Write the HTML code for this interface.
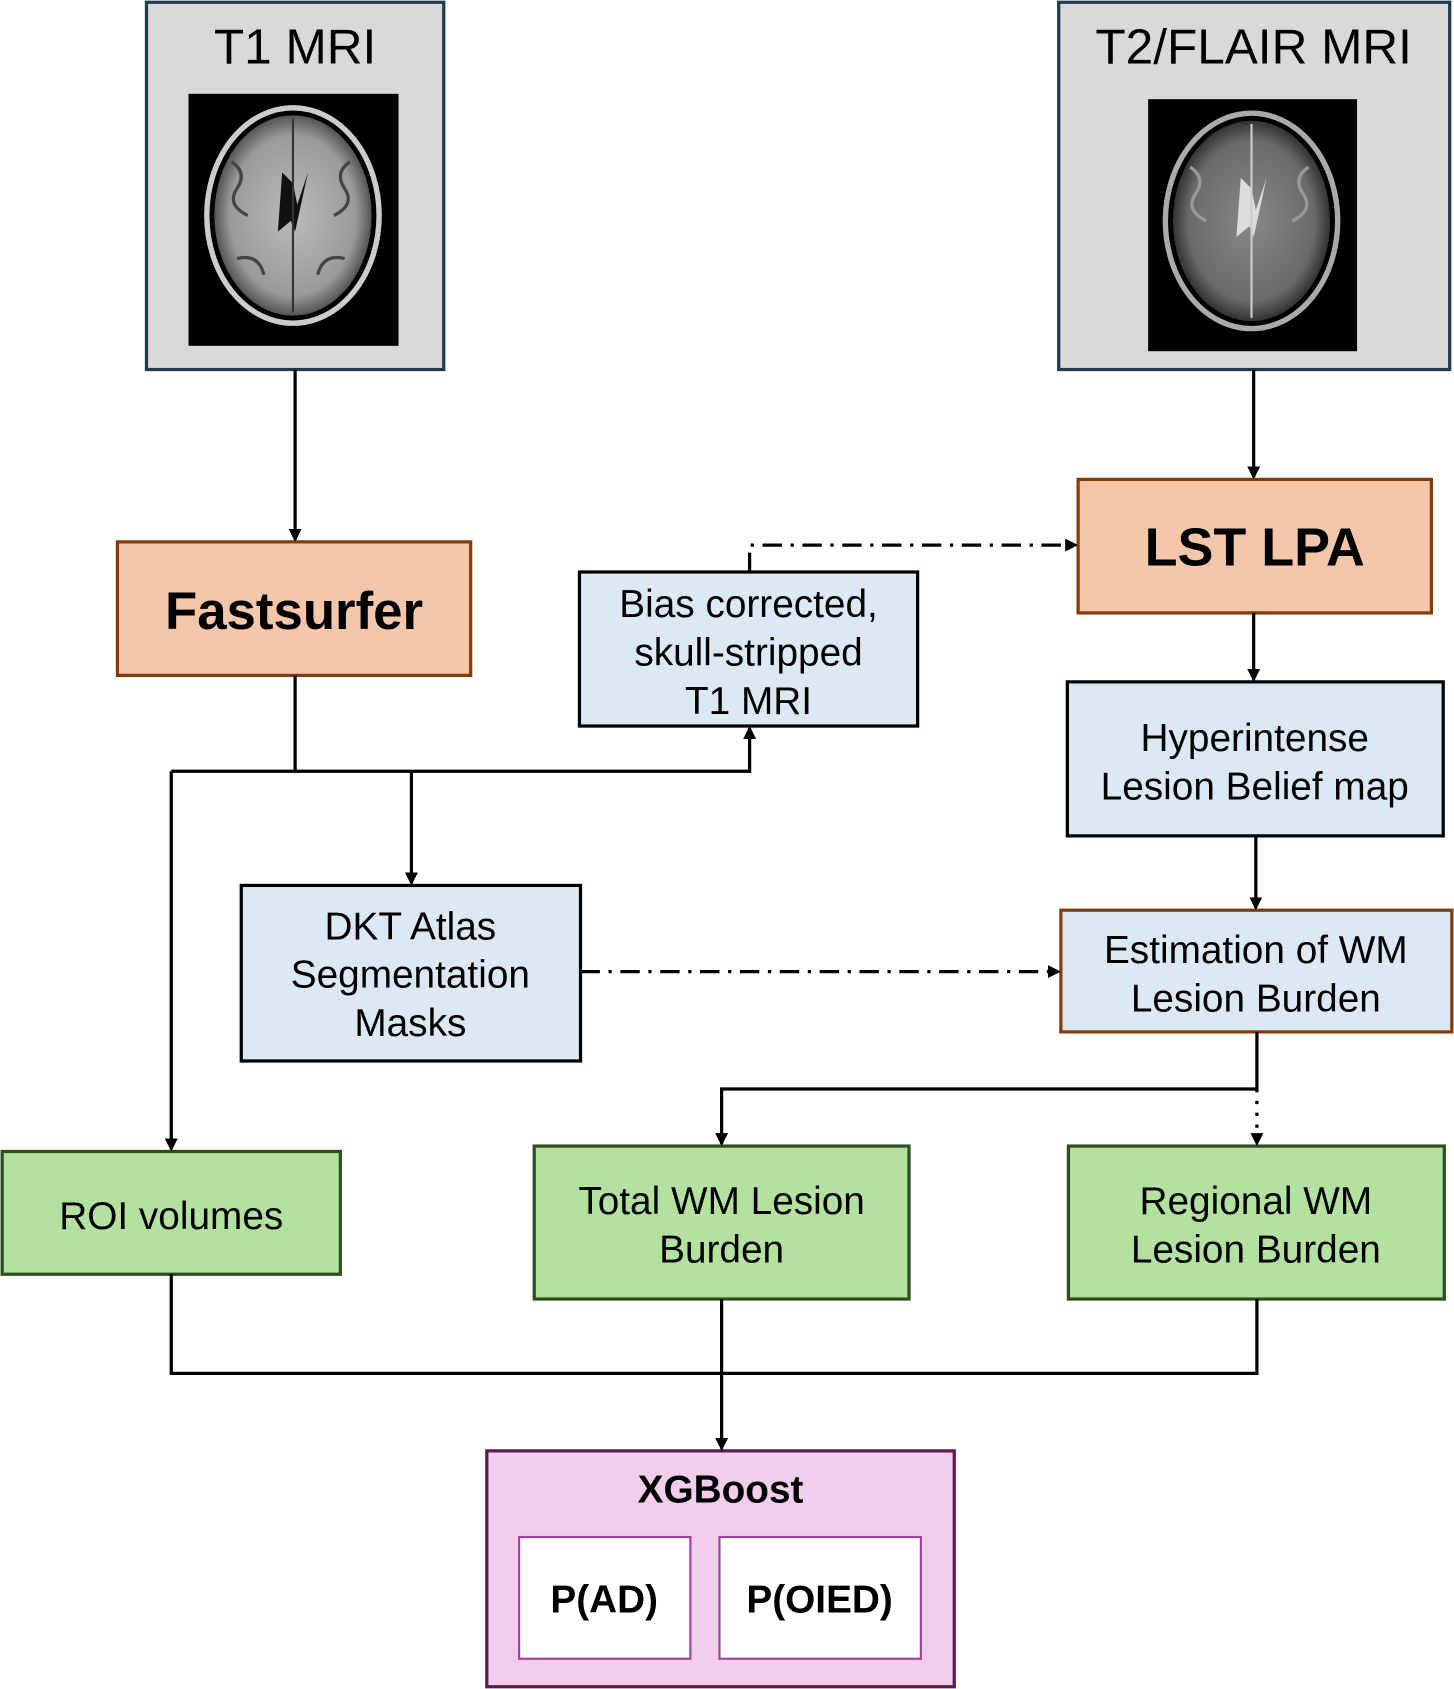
<!DOCTYPE html>
<html><head><meta charset="utf-8"><style>html,body{margin:0;padding:0;background:#fff}svg{display:block}</style></head>
<body>
<svg width="1454" height="1689" viewBox="0 0 1350 1568" xmlns="http://www.w3.org/2000/svg" font-family="Liberation Sans, Arial, sans-serif">
<defs>
<marker id="ah" markerWidth="12" markerHeight="12" refX="10" refY="6" orient="auto" markerUnits="userSpaceOnUse"><path d="M0,0 L12,6 L0,12 z" fill="#000"/></marker>
<radialGradient id="b1" cx="50%" cy="50%" r="50%"><stop offset="0" stop-color="#bbb"/><stop offset="0.8" stop-color="#9a9a9a"/><stop offset="1" stop-color="#555"/></radialGradient>
<radialGradient id="b2" cx="50%" cy="50%" r="50%"><stop offset="0" stop-color="#888"/><stop offset="0.8" stop-color="#6a6a6a"/><stop offset="1" stop-color="#333"/></radialGradient>
</defs>
<!-- T1 -->
<rect x="136" y="2" width="276" height="341" fill="#d9d9d9" stroke="#1f3a4d" stroke-width="3"/>
<text x="274" y="59" font-size="46" text-anchor="middle">T1 MRI</text>
<rect x="175" y="87" width="195" height="234" fill="#000"/>
<ellipse cx="272" cy="200" rx="80" ry="100" fill="none" stroke="#ccc" stroke-width="5"/>
<ellipse cx="272" cy="200" rx="73" ry="93" fill="url(#b1)"/>
<g stroke="#444" stroke-width="3" fill="none">
<path d="M215 150 q15 10 5 25 q-10 15 10 25"/><path d="M325 150 q-15 10 -5 25 q10 15 -10 25"/>
<path d="M220 240 q20 -5 25 15"/><path d="M320 240 q-20 -5 -25 15"/>
</g>
<path d="M262 160 L258 215 L270 205 L274 215 L286 160 L276 190 L272 170 Z" fill="#111"/>
<line x1="272" y1="110" x2="272" y2="290" stroke="#333" stroke-width="2"/>
<!-- T2 -->
<rect x="983" y="2" width="363" height="341" fill="#d9d9d9" stroke="#1f3a4d" stroke-width="3"/>
<text x="1164" y="59" font-size="46" text-anchor="middle">T2/FLAIR MRI</text>
<rect x="1066" y="92" width="194" height="234" fill="#000"/>
<ellipse cx="1162" cy="205" rx="80" ry="100" fill="none" stroke="#aaa" stroke-width="5"/>
<ellipse cx="1162" cy="205" rx="73" ry="93" fill="url(#b2)"/>
<g stroke="#999" stroke-width="3" fill="none">
<path d="M1105 155 q15 10 5 25 q-10 15 10 25"/><path d="M1215 155 q-15 10 -5 25 q10 15 -10 25"/>
</g>
<path d="M1152 165 L1148 220 L1160 210 L1164 220 L1176 165 L1166 195 L1162 175 Z" fill="#ddd"/>
<line x1="1162" y1="115" x2="1162" y2="295" stroke="#ccc" stroke-width="2"/>
<!-- orange boxes -->
<rect x="109" y="503" width="328" height="124" fill="#f5c6aa" stroke="#843c0c" stroke-width="3"/>
<text x="273" y="584" font-size="49" font-weight="bold" text-anchor="middle">Fastsurfer</text>
<rect x="1001" y="445" width="328" height="124" fill="#f5c6aa" stroke="#843c0c" stroke-width="3"/>
<text x="1165" y="525" font-size="50" font-weight="bold" text-anchor="middle">LST LPA</text>
<!-- blue boxes -->
<g font-size="36" text-anchor="middle">
<rect x="538" y="531" width="314" height="143" fill="#dde8f5" stroke="#000" stroke-width="3"/>
<text x="695" y="573">Bias corrected,</text><text x="695" y="618">skull-stripped</text><text x="695" y="663">T1 MRI</text>
<rect x="991" y="633" width="349" height="143" fill="#dde8f5" stroke="#000" stroke-width="3"/>
<text x="1165" y="697">Hyperintense</text><text x="1165" y="742">Lesion Belief map</text>
<rect x="985" y="845" width="363" height="113" fill="#dde8f5" stroke="#843c0c" stroke-width="3"/>
<text x="1166" y="894">Estimation of WM</text><text x="1166" y="939">Lesion Burden</text>
<rect x="224" y="822" width="315" height="163" fill="#dde8f5" stroke="#000" stroke-width="3"/>
<text x="381" y="872">DKT Atlas</text><text x="381" y="917">Segmentation</text><text x="381" y="962">Masks</text>
<!-- green -->
<rect x="2" y="1069" width="314" height="114" fill="#b3e2a0" stroke="#2d4f1e" stroke-width="3"/>
<text x="159" y="1141">ROI volumes</text>
<rect x="496" y="1064" width="348" height="142" fill="#b3e2a0" stroke="#2d4f1e" stroke-width="3"/>
<text x="670" y="1127">Total WM Lesion</text><text x="670" y="1172">Burden</text>
<rect x="992" y="1064" width="349" height="142" fill="#b3e2a0" stroke="#2d4f1e" stroke-width="3"/>
<text x="1166" y="1127">Regional WM</text><text x="1166" y="1172">Lesion Burden</text>
</g>
<!-- XGBoost -->
<rect x="452" y="1347" width="434" height="219" fill="#f2cdec" stroke="#5f1a4f" stroke-width="3"/>
<text x="669" y="1395" font-size="36" font-weight="bold" text-anchor="middle">XGBoost</text>
<rect x="482" y="1427" width="159" height="113" fill="#fff" stroke="#a040a0" stroke-width="2"/>
<rect x="668" y="1427" width="187" height="113" fill="#fff" stroke="#a040a0" stroke-width="2"/>
<text x="561" y="1497" font-size="36" font-weight="bold" text-anchor="middle">P(AD)</text>
<text x="761" y="1497" font-size="36" font-weight="bold" text-anchor="middle">P(OIED)</text>
<!-- connectors -->
<g stroke="#000" stroke-width="3" fill="none">
<line x1="274" y1="343" x2="274" y2="501" marker-end="url(#ah)"/>
<line x1="1164" y1="343" x2="1164" y2="443" marker-end="url(#ah)"/>
<line x1="1164" y1="569" x2="1164" y2="631" marker-end="url(#ah)"/>
<line x1="1166" y1="776" x2="1166" y2="843" marker-end="url(#ah)"/>
<line x1="274" y1="627" x2="274" y2="716"/>
<polyline points="159,716 696,716 696,676" marker-end="url(#ah)"/>
<line x1="159" y1="716" x2="159" y2="1067" marker-end="url(#ah)"/>
<line x1="382" y1="716" x2="382" y2="820" marker-end="url(#ah)"/>
<polyline points="696,531 696,506 999,506" stroke-dasharray="18,8,3,8" marker-end="url(#ah)"/>
<line x1="539" y1="902" x2="983" y2="902" stroke-dasharray="18,8,3,8" marker-end="url(#ah)"/>
<polyline points="1167,958 1167,1011 670,1011 670,1062" marker-end="url(#ah)"/>
<line x1="1167" y1="1011" x2="1167" y2="1062" stroke-dasharray="3,8" marker-end="url(#ah)"/>
<polyline points="159,1183 159,1275 1167,1275 1167,1206"/>
<line x1="670" y1="1206" x2="670" y2="1345" marker-end="url(#ah)"/>
</g>
</svg>
</body></html>
